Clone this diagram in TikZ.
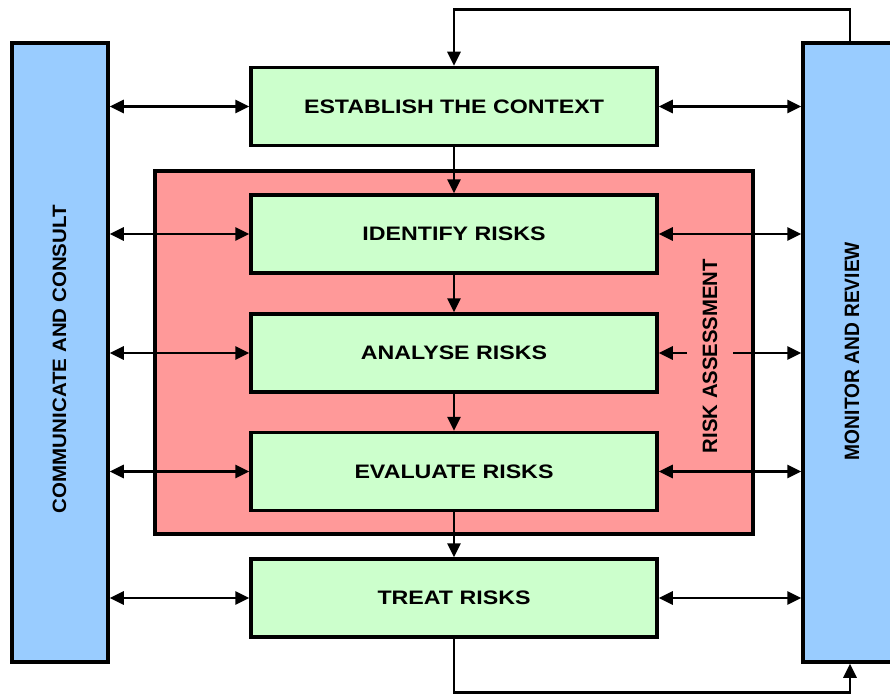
\documentclass[tikz,border=0pt]{standalone}
\usepackage{fontspec}
\setmainfont{Liberation Sans}
\usetikzlibrary{arrows.meta}
\definecolor{barblue}{HTML}{99CCFF}
\definecolor{boxgreen}{HTML}{CCFFCC}
\definecolor{boxred}{HTML}{FF9999}
\tikzset{
  greenbox/.style={draw=black, line width=3.5pt, fill=boxgreen, minimum width=406pt, minimum height=78pt, inner sep=0pt},
  bluebar/.style={draw=black, line width=3.5pt, fill=barblue, minimum width=96pt, minimum height=619pt, inner sep=0pt},
  conn/.style={line width=2.8pt, {Triangle[length=14pt,width=13pt]}-{Triangle[length=14pt,width=13pt]}},
  flow/.style={line width=2.8pt, -{Triangle[length=14pt,width=13pt]}},
  boxtext/.style={font=\fontsize{19.5}{22}\selectfont\bfseries, inner sep=0pt}
}
\newcommand{\btxt}[1]{\scalebox{1.19}[1]{#1}}
\begin{document}
\begin{tikzpicture}[x=1pt,y=-1pt]
\clip (0,0) rectangle (890,693);
\fill[white] (0,0) rectangle (890,693);
% risk assessment box
\node[draw=black, line width=3.5pt, fill=boxred, minimum width=598pt, minimum height=363pt, inner sep=0pt] (ra) at (454,352.5) {};
% bars
\node[bluebar] (lb) at (60,352.5) {};
\node[bluebar] (rb) at (851,352.5) {};
\node[rotate=90, inner sep=0pt] (lbt) at (59.5,359) {\resizebox{308pt}{13.5pt}{\bfseries COMMUNICATE AND CONSULT}};
\node[rotate=90, inner sep=0pt] (rbt) at (852,351) {\resizebox{218pt}{14.5pt}{\bfseries MONITOR AND REVIEW}};
% green boxes
\node[greenbox] (est) at (454,106.5) {};
\node[greenbox] (idr) at (454,234) {};
\node[greenbox] (anr) at (454,353) {};
\node[greenbox] (evr) at (454,471.5) {};
\node[greenbox] (trr) at (454,598) {};
\node[boxtext] at (est) {\btxt{ESTABLISH THE CONTEXT}};
\node[boxtext] at (idr) {\btxt{IDENTIFY RISKS}};
\node[boxtext] at (anr) {\btxt{ANALYSE RISKS}};
\node[boxtext] at (evr) {\btxt{EVALUATE RISKS}};
\node[boxtext] at (trr) {\btxt{TREAT RISKS}};
% side connectors
\foreach \b in {est,idr,anr,evr,trr}{
  \draw[conn] (lb.east |- \b.west) -- (\b.west);
  \draw[conn] (\b.east) -- (rb.west |- \b.east);
}
% risk assessment label (covers the middle of the analyse arrow)
\node[rotate=90, fill=boxred, inner xsep=2pt, inner ysep=16pt] (rat) at (710,356) {\resizebox{194pt}{14.5pt}{\bfseries RISK ASSESSMENT}};
% flow
\draw[flow] (est.south) -- (idr.north);
\draw[flow] (idr.south) -- (anr.north);
\draw[flow] (anr.south) -- (evr.north);
\draw[flow] (evr.south) -- (trr.north);
% feedback loops
\coordinate (rtop) at ([xshift=-1pt]rb.north);
\coordinate (rbot) at ([xshift=-1pt]rb.south);
\draw[flow] (rtop) -- ++(0,-32) -| (est.north);
\draw[flow] (trr.south) -- ++(0,53.5) -| (rbot);
\end{tikzpicture}
\end{document}
